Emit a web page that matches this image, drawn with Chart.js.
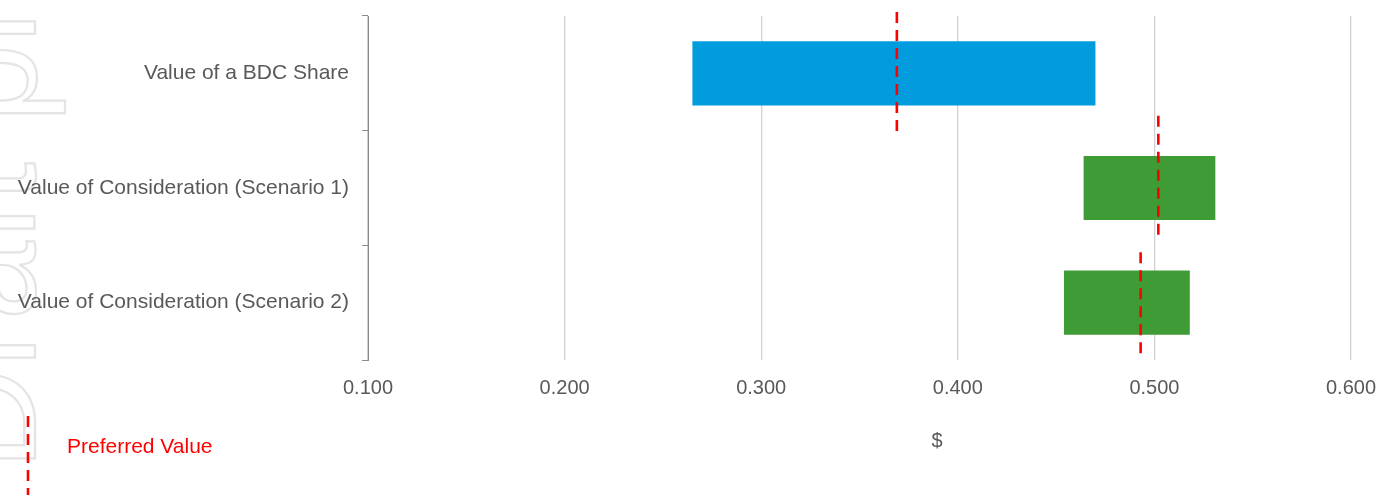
<!DOCTYPE html>
<html>
<head>
<meta charset="utf-8">
<script src="https://cdn.jsdelivr.net/npm/chart.js@4"></script>
<style>
  html, body { margin: 0; padding: 0; background: #fff; }
  #wrap { position: relative; width: 1391px; height: 495px; overflow: hidden; font-family: "Liberation Sans", Arial, sans-serif; }
  #myChart { position: absolute; left: 0; top: 0; }
  #xtitle { position: absolute; left: 927px; top: 429px; width: 20px; text-align: center; font-size: 20px; color: #595959; }
  #legLine { position: absolute; left: 24px; top: 412px; }
  #legText { position: absolute; left: 67px; top: 434px; font-size: 21px; color: #ff0000; }
</style>
</head>
<body>
<div id="wrap">
  <canvas id="myChart" width="1391" height="495"></canvas>
  <div id="xtitle">$</div>
  <svg id="legLine" width="8" height="83"><line x1="4" y1="4" x2="4" y2="83" stroke="#ff0000" stroke-width="2.6" stroke-dasharray="11 7"/></svg>
  <div id="legText">Preferred Value</div>
</div>
<script>
// chart values
var categories = [
    "Value of a BDC Share",
    "Value of Consideration (Scenario 1)",
    "Value of Consideration (Scenario 2)"
];
var lowValues = [0.265, 0.464, 0.454];
var highValues = [0.470, 0.531, 0.518];
var preferredValues = [0.369, 0.502, 0.493];
// span of each preferred marker, in category units around its row
var preferredFrom = [-0.535, -0.63, -0.44];
var preferredTo = [0.535, 0.43, 0.47];
var xTicks = [0.1, 0.2, 0.3, 0.4, 0.5, 0.6];
var barColors = ['#009CDE', '#3E9B35', '#3E9B35'];

var fontFamily = '"Liberation Sans", Arial, sans-serif';

// faint rotated watermark on the left edge
const watermark = {
    id: 'watermark',
    beforeDraw(chart) {
        const c = chart.ctx;
        c.save();
        c.translate(35, 470);
        c.rotate(-Math.PI / 2);
        c.font = '142px ' + fontFamily;
        c.strokeStyle = '#e4e4e4';
        c.lineWidth = 2.2;
        c.textBaseline = 'alphabetic';
        c.strokeText('Draft pro', 0, 0);
        c.restore();
    }
};

var datasets = [{
    type: 'bar',
    label: 'Range',
    indexAxis: 'y',
    xAxisID: 'x',
    yAxisID: 'y',
    order: 2,
    data: lowValues.map(function (v, i) { return [v, highValues[i]]; }),
    backgroundColor: barColors,
    borderWidth: 0,
    barPercentage: 0.56,
    categoryPercentage: 1
}];

preferredValues.forEach(function (v, i) {
    datasets.push({
        type: 'line',
        label: 'Preferred Value',
        xAxisID: 'x',
        yAxisID: 'y2',
        order: 1,
        data: [{ x: v, y: i + preferredFrom[i] }, { x: v, y: i + preferredTo[i] }],
        borderColor: '#FF0000',
        borderWidth: 2.6,
        borderDash: [11, 7],
        pointRadius: 0,
        fill: false,
        clip: false
    });
});

const ctx = document.getElementById('myChart');
new Chart(ctx, {
    type: 'bar',
    data: { labels: categories, datasets: datasets },
    plugins: [watermark],
    options: {
        responsive: false,
        animation: false,
        layout: { padding: { top: 16, right: 40, left: 0, bottom: 0 } },
        plugins: {
            legend: { display: false },
            tooltip: { enabled: false }
        },
        scales: {
            x: {
                type: 'linear',
                position: 'bottom',
                offset: false,
                min: xTicks[0],
                max: xTicks[xTicks.length - 1],
                afterFit: function (scale) {
                    scale.height = 135;
                    scale.paddingLeft = 0;
                    scale.paddingRight = 0;
                },
                grid: { offset: false, color: '#d0d0d0', lineWidth: 1.3, drawTicks: false },
                border: { display: false },
                ticks: {
                    stepSize: 0.1,
                    padding: 16,
                    color: '#595959',
                    font: { size: 20, family: fontFamily },
                    callback: function (v) { return Number(v).toFixed(3); }
                }
            },
            y: {
                type: 'category',
                position: 'left',
                offset: true,
                afterFit: function (scale) {
                    scale.width = 368;
                    scale.paddingTop = 0;
                    scale.paddingBottom = 0;
                },
                grid: { offset: true, drawOnChartArea: false, drawTicks: true, tickLength: 6, color: '#8c8c8c' },
                border: { display: true, color: '#8c8c8c', width: 1 },
                ticks: {
                    padding: 13,
                    color: '#595959',
                    font: { size: 21, family: fontFamily }
                }
            },
            y2: {
                type: 'linear',
                display: false,
                min: -0.5,
                max: 2.5,
                reverse: true
            }
        }
    }
});
</script>
</body>
</html>
